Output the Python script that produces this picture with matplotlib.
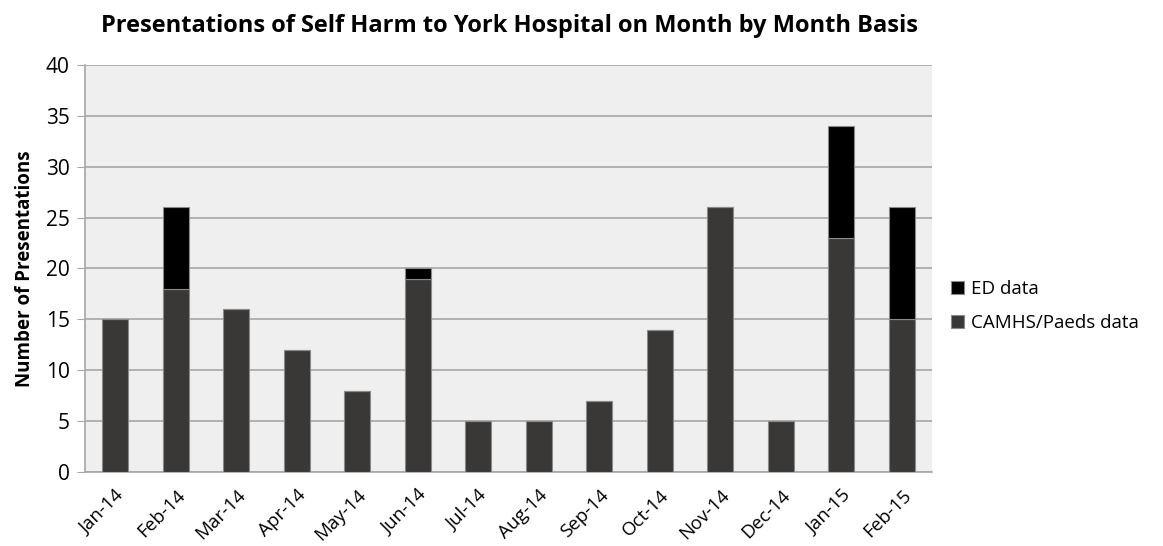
import numpy as np
import matplotlib.pyplot as plt

months = ['Jan-14', 'Feb-14', 'Mar-14', 'Apr-14', 'May-14', 'Jun-14', 'Jul-14',
          'Aug-14', 'Sep-14', 'Oct-14', 'Nov-14', 'Dec-14', 'Jan-15', 'Feb-15']
camhs = [15, 18, 16, 12, 8, 19, 5, 5, 7, 14, 26, 5, 23, 15]
ed = [0, 8, 0, 0, 0, 1, 0, 0, 0, 0, 0, 0, 11, 11]

plt.rcParams['font.family'] = ['Open Sans', 'DejaVu Sans']

fig = plt.figure(figsize=(11.63, 5.46), dpi=100)
ax = fig.add_axes([0.0731, 0.1355, 0.7283, 0.7455])
ax.set_facecolor('#efefef')

x = np.arange(len(months))
ax.bar(x, camhs, width=0.43, color='#3a3836', edgecolor='#8a8a8a', linewidth=0.8,
       label='CAMHS/Paeds data', zorder=3)
ax.bar(x, ed, width=0.43, bottom=camhs, color='#000000', edgecolor='#8a8a8a',
       linewidth=0.8, label='ED data', zorder=3)

ax.set_xlim(-0.5, len(months) - 0.5)
ax.set_ylim(0, 40)
ax.set_yticks(range(0, 41, 5))
ax.yaxis.grid(True, color='#a6a6a6', linewidth=1.2, zorder=0)
ax.set_axisbelow(True)
ax.set_xticks(x)
ax.set_xticklabels(months, rotation=45, ha='right', rotation_mode='anchor', fontsize=13.5)
ax.tick_params(axis='x', length=0, pad=10)
ax.tick_params(axis='y', labelsize=15, length=6, color='#a6a6a6', pad=5)
for side in ['top', 'right']:
    ax.spines[side].set_visible(False)
for side in ['left', 'bottom']:
    ax.spines[side].set_color('#a6a6a6')
    ax.spines[side].set_linewidth(1.2)

ax.set_ylabel('Number of Presentations', fontsize=13.5, fontweight='bold', labelpad=8)
fig.suptitle('Presentations of Self Harm to York Hospital on Month by Month Basis',
             fontsize=17, fontweight='bold', x=0.438, y=0.975)

handles, labels = ax.get_legend_handles_labels()
leg = fig.legend(handles[::-1], labels[::-1], loc='center left', bbox_to_anchor=(0.818, 0.44),
                 frameon=False, fontsize=13.5, handlelength=0.7, handleheight=0.7,
                 handletextpad=0.35, labelspacing=0.85, borderpad=0, borderaxespad=0)

fig.savefig('out.png', dpi=100)
